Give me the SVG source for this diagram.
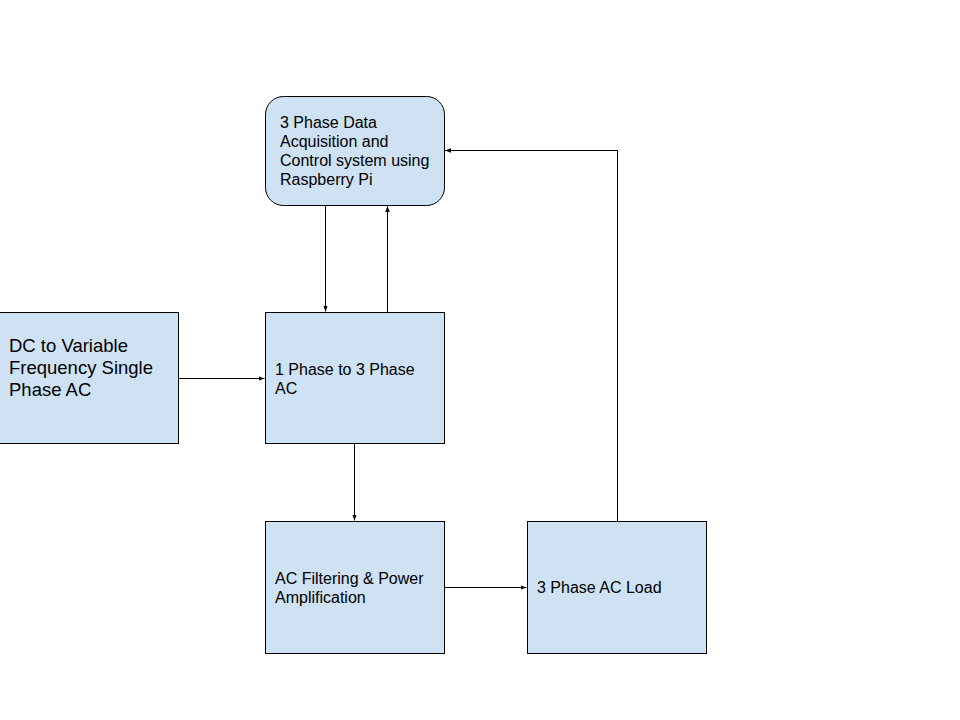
<svg xmlns="http://www.w3.org/2000/svg" width="960" height="720" viewBox="0 0 960 720">
  <style>
    .box { fill: #cfe2f3; stroke: #000; stroke-width: 1; }
    .lbl { font-family: "Liberation Sans", Arial, sans-serif; font-size: 16px; fill: #000; }
    .big { font-size: 18.5px; }
    .wire { fill: none; stroke: #000; stroke-width: 1; marker-end: url(#arrow); }
  </style>
  <defs>
    <marker id="arrow" viewBox="0 0 8 6" refX="8" refY="3" markerWidth="6" markerHeight="4.5" markerUnits="userSpaceOnUse" orient="auto">
      <path d="M0,0 L8,3 L0,6 z" fill="#000"/>
    </marker>
  </defs>
  <rect width="960" height="720" fill="#fff"/>

  <g id="connectors">
    <path class="wire" d="M325.5,205.5 V311.5"/>
    <path class="wire" d="M387.5,312 V206"/>
    <path class="wire" d="M178.5,378.5 H264.5"/>
    <path class="wire" d="M354.5,443.5 V520.5"/>
    <path class="wire" d="M444.5,587.5 H526.5"/>
    <path class="wire" d="M617.5,521 V150.5 H445"/>
  </g>

  <g id="daq">
    <rect class="box" x="265.5" y="96.5" width="179" height="109" rx="18" ry="18"/>
    <text class="lbl" x="280" y="128">3 Phase Data</text>
    <text class="lbl" x="280" y="147">Acquisition and</text>
    <text class="lbl" x="280" y="166">Control system using</text>
    <text class="lbl" x="280" y="185">Raspberry Pi</text>
  </g>

  <g id="dc-source">
    <rect class="box" x="-1" y="312.5" width="179.5" height="131"/>
    <text class="lbl big" x="9" y="352">DC to Variable</text>
    <text class="lbl big" x="9" y="374">Frequency Single</text>
    <text class="lbl big" x="9" y="396">Phase AC</text>
  </g>

  <g id="phase-converter">
    <rect class="box" x="265.5" y="312.5" width="179" height="131"/>
    <text class="lbl" x="275" y="375">1 Phase to 3 Phase</text>
    <text class="lbl" x="275" y="394">AC</text>
  </g>

  <g id="filter-amp">
    <rect class="box" x="265.5" y="521.5" width="179" height="132"/>
    <text class="lbl" x="275" y="584">AC Filtering &amp; Power</text>
    <text class="lbl" x="275" y="603">Amplification</text>
  </g>

  <g id="load">
    <rect class="box" x="527.5" y="521.5" width="179" height="132"/>
    <text class="lbl" x="537" y="593">3 Phase AC Load</text>
  </g>
</svg>
